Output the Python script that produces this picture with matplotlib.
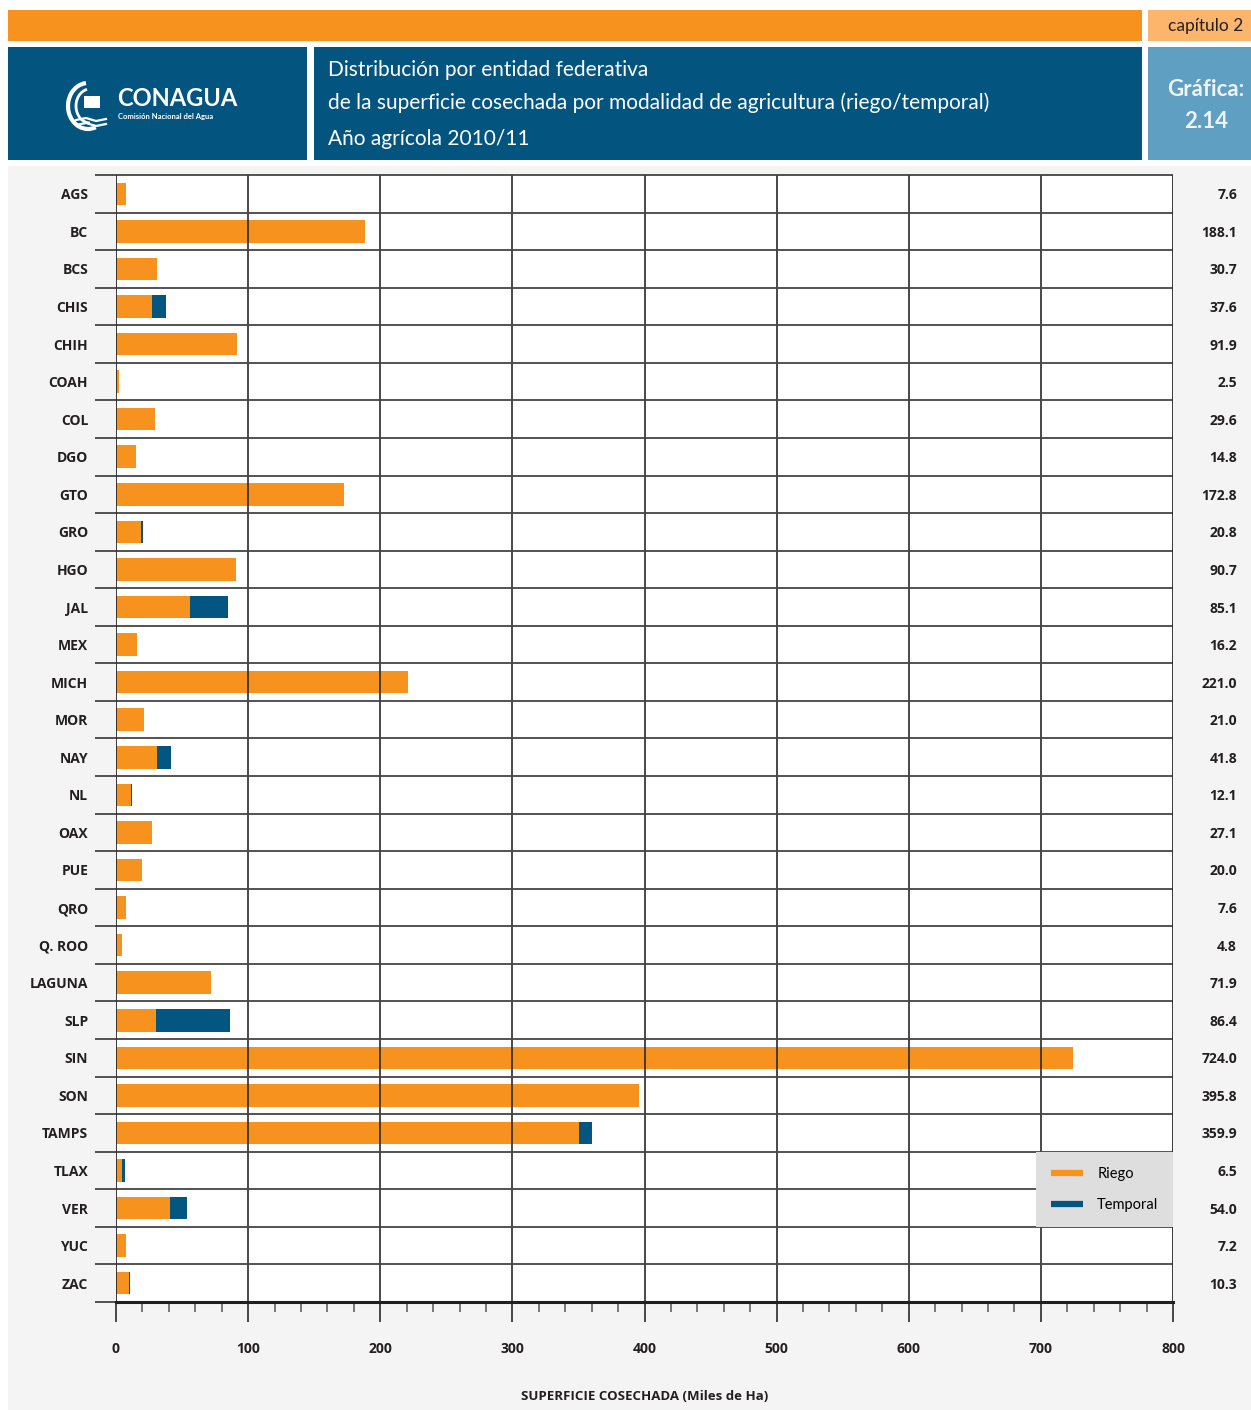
import matplotlib
matplotlib.use("Agg")
import matplotlib.pyplot as plt
import numpy as np
from matplotlib.patches import Rectangle, Arc
from matplotlib.lines import Line2D

# ── data (miles de ha) ─────────────────────────────────────────────────────
estados = ["AGS", "BC", "BCS", "CHIS", "CHIH", "COAH", "COL", "DGO", "GTO", "GRO",
           "HGO", "JAL", "MEX", "MICH", "MOR", "NAY", "NL", "OAX", "PUE", "QRO",
           "Q. ROO", "LAGUNA", "SLP", "SIN", "SON", "TAMPS", "TLAX", "VER", "YUC", "ZAC"]
riego = [7.6, 188.1, 30.7, 27.6, 91.9, 2.5, 29.6, 14.8, 172.8, 18.7,
         90.7, 55.8, 16.2, 221.0, 21.0, 30.8, 11.5, 27.1, 20.0, 7.6,
         4.8, 71.9, 30.1, 724.0, 395.8, 350.5, 4.3, 40.7, 7.2, 9.6]
temporal = [0.0, 0.0, 0.0, 10.0, 0.0, 0.0, 0.0, 0.0, 0.0, 2.1,
            0.0, 29.3, 0.0, 0.0, 0.0, 11.0, 0.6, 0.0, 0.0, 0.0,
            0.0, 0.0, 56.3, 0.0, 0.0, 9.4, 2.2, 13.3, 0.0, 0.7]
totales = ["7.6", "188.1", "30.7", "37.6", "91.9", "2.5", "29.6", "14.8", "172.8", "20.8",
           "90.7", "85.1", "16.2", "221.0", "21.0", "41.8", "12.1", "27.1", "20.0", "7.6",
           "4.8", "71.9", "86.4", "724.0", "395.8", "359.9", "6.5", "54.0", "7.2", "10.3"]

ORANGE, BLUE, DARK = "#f7921e", "#02567f", "#231f20"
W, H = 1251, 1410
plt.rcParams["font.family"] = ["Open Sans", "DejaVu Sans"]

fig = plt.figure(figsize=(W / 100, H / 100), dpi=100)
fig.patch.set_facecolor("white")

def rect(x, y, w, h, fc):
    # pixel coords, origin top-left
    fig.patches.append(Rectangle((x / W, 1 - (y + h) / H), w / W, h / H, fc=fc, ec="none",
                                 transform=fig.transFigure, figure=fig, zorder=-10))

def ftxt(x, y, s, **kw):
    fig.text(x / W, 1 - y / H, s, **kw)

# ── header ─────────────────────────────────────────────────────────────────
rect(8, 10, 1134, 31, ORANGE)
rect(1148, 10, 103, 31, "#fdb56b")
rect(8, 47, 299, 113, "#03557f")
rect(314, 47, 828, 113, "#03557f")
rect(1148, 47, 103, 113, "#5e9fc2")
rect(8, 166, 1243, 1244, "#f4f4f4")

ftxt(1206, 26, "capítulo 2", fontsize=12.5, color=DARK, ha="center", va="center", family="Lato")
ftxt(1206, 89, "Gráfica:", fontsize=16, color="#eef4f8", ha="center", va="center",
     weight="bold", family="Lato")
ftxt(1206, 121, "2.14", fontsize=16, color="#eef4f8", ha="center", va="center",
     weight="bold", family="Lato")
ftxt(328, 70, "Distribución por entidad federativa", fontsize=15, color="white",
     va="center", family="Lato")
ftxt(328, 103, "de la superficie cosechada por modalidad de agricultura (riego/temporal)",
     fontsize=15, color="white", va="center", family="Lato")
ftxt(328, 139, "Año agrícola 2010/11", fontsize=15, color="white", va="center", family="Lato")

# logo
ftxt(117, 99, "CONAGUA", fontsize=17, color="white", weight="bold", va="center", family="Lato")
ftxt(118, 116, "Comisión Nacional del Agua", fontsize=5.5, color="white", va="center",
     weight="bold", family="Lato")
logo = fig.add_axes([62 / W, 1 - 132 / H, 50 / W, 60 / H])
logo.set_xlim(0, 50); logo.set_ylim(0, 60); logo.axis("off")
logo.add_patch(Arc((26, 26), 40, 46, theta1=95, theta2=290, color="white", lw=3))
logo.add_patch(Arc((28, 26), 28, 34, theta1=100, theta2=270, color="white", lw=2))
logo.add_patch(Rectangle((22, 24), 16, 12, fc="white", ec="none"))
for yy in (12, 7):
    logo.plot([14, 24, 34, 44], [yy, yy + 2, yy - 1, yy + 1], color="white", lw=1.6)

# ── chart ──────────────────────────────────────────────────────────────────
x0, x1, ytop, ybot = 116, 1173, 175, 1302
ax = fig.add_axes([x0 / W, 1 - ybot / H, (x1 - x0) / W, (ybot - ytop) / H])
ax.set_facecolor("white")

n = len(estados)
ypos = np.arange(n)
ax.barh(ypos, riego, height=0.6, color=ORANGE, zorder=2, label="Riego")
ax.barh(ypos, temporal, left=riego, height=0.6, color=BLUE, zorder=2, label="Temporal")

ax.set_xlim(0, 800)
ax.set_ylim(n - 0.5, -0.5)

# grid
for xv in range(100, 800, 100):
    ax.axvline(xv, color="#2a2a2a", lw=1.2, zorder=3)
ax.hlines(np.arange(-0.5, n), -16, 800, color="#444444", lw=1.3, zorder=3, clip_on=False)

for s in ("top", "right", "left"):
    ax.spines[s].set_visible(False)
ax.axvline(800, color="#2a2a2a", lw=1.3, zorder=3)
ax.axvline(0, color="#2a2a2a", lw=1.3, zorder=3)
ax.spines["bottom"].set_color(DARK)
ax.spines["bottom"].set_linewidth(2.2)
ax.spines["bottom"].set_zorder(4)

ax.set_yticks(ypos)
ax.set_yticklabels(estados, fontsize=10, weight="bold", color=DARK)
ax.tick_params(axis="y", length=0, pad=20)

ax.set_xticks(np.arange(0, 801, 100))
ax.set_xticks(np.arange(0, 801, 20), minor=True)
ax.tick_params(axis="x", which="major", length=14.5, width=1.2, color="#2a2a2a",
               pad=14, labelsize=10, labelcolor=DARK)
ax.tick_params(axis="x", which="minor", length=7.5, width=1.1, color="#555555")
for lab in ax.get_xticklabels():
    lab.set_fontweight("bold")

ax.set_xlabel("SUPERFICIE COSECHADA (Miles de Ha)", fontsize=9.5, weight="bold", color=DARK)
ax.xaxis.set_label_coords(0.5, -(1397 - ybot) / (ybot - ytop))
ax.xaxis.label.set_va("center")

# totals on the right
for yv, t in zip(ypos, totales):
    ax.text((1237 - x0) / (x1 - x0), yv + 0.04, t, transform=ax.get_yaxis_transform(),
            ha="right", va="center", fontsize=10, weight="bold", color=DARK)

handles = [Line2D([], [], color=ORANGE, lw=4.5, solid_capstyle="butt"),
           Line2D([], [], color=BLUE, lw=4.5, solid_capstyle="butt")]
leg = ax.legend(handles, ["Riego", "Temporal"], loc="lower right",
                bbox_to_anchor=(1.0, (ybot - 1227) / (ybot - ytop)), borderaxespad=0,
                frameon=True, fancybox=False, facecolor="#dedede", edgecolor="none",
                framealpha=1, handlelength=2.2, handletextpad=1.0,
                labelspacing=1.2, borderpad=1.0, prop={"family": "Lato", "size": 10.5})
leg.set_zorder(5)

fig.savefig("out.png", dpi=100, facecolor="white")
